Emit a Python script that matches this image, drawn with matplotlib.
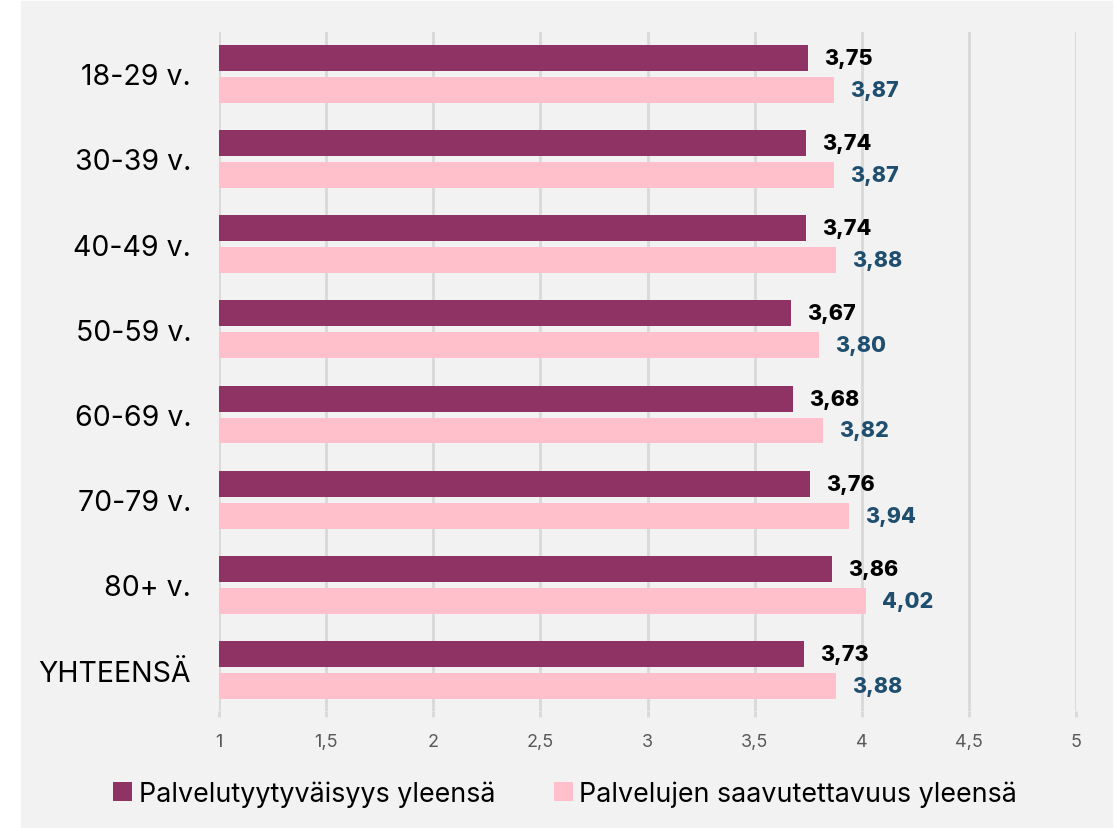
import matplotlib.pyplot as plt
import matplotlib.patches as mpatches
import numpy as np

categories = ['18-29 v.', '30-39 v.', '40-49 v.', '50-59 v.', '60-69 v.',
              '70-79 v.', '80+ v.', 'YHTEENSÄ']
tyytyvaisyys = [3.75, 3.74, 3.74, 3.67, 3.68, 3.76, 3.86, 3.73]
saavutettavuus = [3.87, 3.87, 3.88, 3.80, 3.82, 3.94, 4.02, 3.88]
series_names = ['Palvelutyytyväisyys yleensä', 'Palvelujen saavutettavuus yleensä']
xticks = [1, 1.5, 2, 2.5, 3, 3.5, 4, 4.5, 5]

purple = '#8e3363'
pink = '#ffc0cc'
bg = '#f2f2f2'

plt.rcParams['font.family'] = ['Inter', 'DejaVu Sans']

W, H = 1117, 829
fig = plt.figure(figsize=(W / 100, H / 100), dpi=100)
fig.set_facecolor('white')
fig.patches.append(mpatches.Rectangle((21 / W, 0), (1112 - 21) / W, (H - 2) / H,
                                      transform=fig.transFigure, color=bg, zorder=-10))

# axes: x=1 at px 219, x=5 at px 1076; top px 33, bottom px 712
ax = fig.add_axes([219 / W, 1 - 712 / H, (1076 - 219) / W, (712 - 33) / H])
ax.set_facecolor(bg)

y = np.arange(len(categories))
off = 0.1875
h = 0.305
ax.barh(y - off, [v - 1 for v in tyytyvaisyys], left=1, height=h, color=purple,
        label=series_names[0], zorder=3)
ax.barh(y + off, [v - 1 for v in saavutettavuus], left=1, height=h, color=pink,
        label=series_names[1], zorder=3)

for yi, v in zip(y, tyytyvaisyys):
    ax.text(v + 0.075, yi - off, f'{v:.2f}'.replace('.', ','), va='center', ha='left',
            fontsize=15.5, fontweight='heavy', color='black')
for yi, v in zip(y, saavutettavuus):
    ax.text(v + 0.075, yi + off, f'{v:.2f}'.replace('.', ','), va='center', ha='left',
            fontsize=15.5, fontweight='heavy', color='#1f4e6e')

ax.set_xlim(1, 5)
ax.set_ylim(len(categories) - 0.52, -0.49)
ax.set_xticks(xticks)
ax.set_xticklabels([str(t).replace('.', ',') for t in xticks])
ax.set_yticks(y)
ax.set_yticklabels(categories)
ax.tick_params(axis='y', length=0, pad=20, labelsize=20.5, labelcolor='black')
ax.tick_params(axis='x', length=4, width=2, color='#d9d9d9', pad=12,
               labelsize=13, labelcolor='#595959')
ax.grid(axis='x', color='#d9d9d9', linewidth=2, zorder=0)
for s in ax.spines.values():
    s.set_visible(False)

ax.legend(loc='center', bbox_to_anchor=(0.506, 1 - 795 / H), bbox_transform=fig.transFigure,
          ncol=2, frameon=False, fontsize=19.3, handlelength=0.7, handleheight=0.7,
          handletextpad=0.25, columnspacing=2.2)

fig.savefig('out.png', dpi=100, facecolor=fig.get_facecolor())
